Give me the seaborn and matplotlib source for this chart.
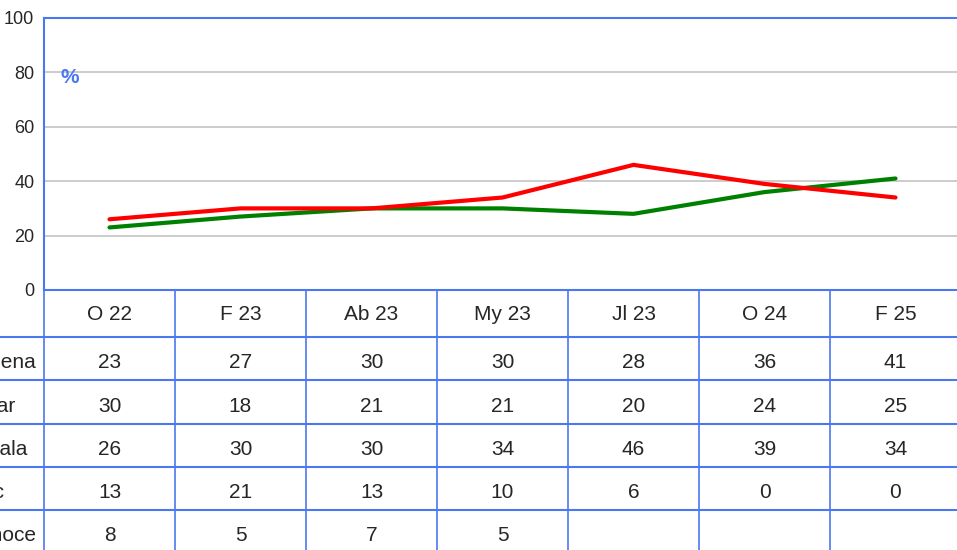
import pandas as pd
import matplotlib.pyplot as plt
import seaborn as sns

periodos = ["O 22", "F 23", "Ab 23", "My 23", "Jl 23", "O 24", "F 25"]
filas = ["Buena", "Regular", "Mala", "Ns/Nc", "No conoce"]
buena = [23, 27, 30, 30, 28, 36, 41]
regular = [30, 18, 21, 21, 20, 24, 25]
mala = [26, 30, 30, 34, 46, 39, 34]
nsnc = [13, 21, 13, 10, 6, 0, 0]
no_conoce = [8, 5, 7, 5, None, None, None]

AZUL = "#4A78F0"
FUENTE = ["Liberation Sans", "DejaVu Sans"]
COL = 131  # ancho de columna en px


def plot_chart():
    sns.set_style("white")
    plt.rcParams["font.family"] = FUENTE

    fig = plt.figure(figsize=(9.57, 5.5), dpi=100)
    W, H = 957, 550
    ax = fig.add_axes([44 / W, (H - 290) / H, 917 / W, 272 / H])

    df = pd.DataFrame({"periodo": list(range(len(periodos))) * 2,
                       "valor": buena + mala,
                       "serie": ["Buena"] * len(buena) + ["Mala"] * len(mala)})
    sns.lineplot(data=df, x="periodo", y="valor", hue="serie",
                 palette={"Buena": "#008000", "Mala": "#FF0000"},
                 linewidth=3, legend=False, ax=ax, zorder=3)

    ax.set_xlim(-0.5, len(periodos) - 0.5)
    ax.set_ylim(0, 100)
    ax.set_yticks([0, 20, 40, 60, 80, 100])
    ax.set_xticks([])
    ax.set_xlabel("")
    ax.set_ylabel("")
    ax.tick_params(axis="y", length=0, pad=7, labelsize=13)
    ax.yaxis.grid(True, color="#C4C4C4", linewidth=1.2)
    for s in ax.spines.values():
        s.set_color(AZUL)
        s.set_linewidth(1.5)
    ax.text(-0.5 + (70 - 44) / COL, 78, "%", color=AZUL,
            fontsize=15, fontweight="bold", ha="center", va="center")

    # tabla de datos
    tb = fig.add_axes([44 / W, -3 / H, 917 / W, 263 / H])
    tb.set_xlim(-0.5, len(periodos) - 0.5)
    tb.set_ylim(263, 0)
    tb.axis("off")
    bordes = [0, 47, 90, 134, 177, 220, 263]
    x_izq = -0.5 - 44 / COL
    tb.hlines(bordes[1:-1], x_izq, len(periodos) - 0.5, color=AZUL,
              linewidth=1.5, clip_on=False)
    tb.vlines([i - 0.5 for i in range(len(periodos) + 1)], 0, 263,
              color=AZUL, linewidth=1.2, clip_on=False)

    for i, p in enumerate(periodos):
        tb.text(i, 24, p, ha="center", va="center", fontsize=15)

    # borde derecho (px) de cada etiqueta de fila, como en la imagen recortada
    fin_etiqueta = [36, 15, 28, 4, 36]
    valores = [buena, regular, mala, nsnc, no_conoce]
    for r, (nombre, fila) in enumerate(zip(filas, valores)):
        yc = (bordes[r + 1] + bordes[r + 2]) / 2 + 4
        tb.text(-0.5 + (fin_etiqueta[r] - 44) / COL, yc, nombre,
                ha="right", va="center", fontsize=15, clip_on=False)
        for i, v in enumerate(fila):
            if v is not None:
                tb.text(i, yc, str(v), ha="center", va="center", fontsize=15)

    fig.savefig("out.png", dpi=100)


if __name__ == "__main__":
    plot_chart()
